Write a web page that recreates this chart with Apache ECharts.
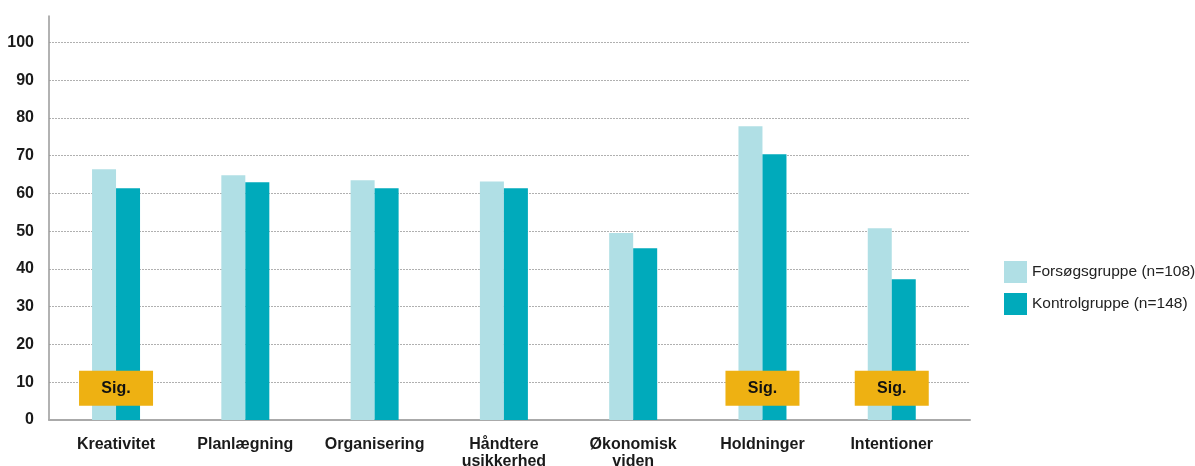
<!DOCTYPE html>
<html>
<head>
<meta charset="utf-8">
<script src="https://cdn.jsdelivr.net/npm/echarts@6/dist/echarts.min.js"></script>
<style>
html,body{margin:0;padding:0;background:#fff;}
#chart{width:1195px;height:466px;}
</style>
</head>
<body>
<div id="chart"></div>
<script>
const categories = ['Kreativitet', 'Planlægning', 'Organisering', 'Håndtere\nusikkerhed', 'Økonomisk\nviden', 'Holdninger', 'Intentioner'];
const forsoeg = [66.4, 64.8, 63.5, 63.2, 49.5, 77.8, 50.8];
const kontrol = [61.4, 63.0, 61.4, 61.4, 45.5, 70.4, 37.3];
const sigCategories = ['Kreativitet', 'Holdninger', 'Intentioner'];
const sigLevel = 8.4;
const yTicks = [0, 10, 20, 30, 40, 50, 60, 70, 80, 90, 100];

const FONT = '"Liberation Sans", Arial, sans-serif';
const chart = echarts.init(document.getElementById('chart'), null, {renderer: 'canvas'});
const catIndex = c => categories.findIndex(x => x.replace('\n', ' ') === c || x === c);

chart.setOption({
  animation: false,
  grid: [
    {left: 49, right: 225, top: 16, bottom: 46, containLabel: false, outerBoundsMode: 'none'},
    {left: 51.4, right: 238.6, top: 16, bottom: 46, containLabel: false, outerBoundsMode: 'none'}
  ],
  legend: {
    orient: 'vertical',
    left: 1004,
    top: 261,
    padding: 0,
    itemWidth: 23,
    itemHeight: 22,
    itemGap: 10,
    icon: 'rect',
    data: ['Forsøgsgruppe (n=108)', 'Kontrolgruppe (n=148)'],
    textStyle: {fontFamily: FONT, fontSize: 15.5, color: '#222'}
  },
  xAxis: [
    {
      gridIndex: 0, type: 'value', min: 0, max: 1,
      axisLine: {show: true, lineStyle: {color: '#aaa', width: 2}},
      axisTick: {show: false}, axisLabel: {show: false}, splitLine: {show: false}
    },
    {
      gridIndex: 1, type: 'category', data: categories,
      axisLine: {show: false}, axisTick: {show: false},
      axisLabel: {fontFamily: FONT, fontWeight: 'bold', fontSize: 16, color: '#1a1a1a', margin: 16, lineHeight: 17, interval: 0}
    }
  ],
  yAxis: [
    {
      gridIndex: 0, type: 'value', min: 0, max: 107, interval: 10,
      axisLine: {show: true, lineStyle: {color: '#999', width: 1.5}},
      axisTick: {show: false},
      axisLabel: {
        fontFamily: FONT, fontWeight: 'bold', fontSize: 16, color: '#1a1a1a', margin: 15,
        showMaxLabel: false,
        formatter: v => yTicks.includes(v) ? String(v) : ''
      },
      splitLine: {show: true, showMaxLine: false, showMinLine: false, lineStyle: {color: '#b0b0b0', type: [2, 1], width: 1}}
    },
    {
      gridIndex: 1, type: 'value', min: 0, max: 107, interval: 10,
      show: false, splitLine: {show: false}
    }
  ],
  series: [
    {
      name: 'Forsøgsgruppe (n=108)', type: 'bar', xAxisIndex: 1, yAxisIndex: 1,
      data: forsoeg, barWidth: 24, barGap: '0%',
      itemStyle: {color: '#B0DFE5'}, z: 2
    },
    {
      name: 'Kontrolgruppe (n=148)', type: 'bar', xAxisIndex: 1, yAxisIndex: 1,
      data: kontrol, barWidth: 24, barGap: '0%',
      itemStyle: {color: '#00AABB'}, z: 2
    },
    {
      name: 'Sig.', type: 'scatter', xAxisIndex: 1, yAxisIndex: 1,
      data: sigCategories.map(c => [catIndex(c), sigLevel]),
      symbol: 'rect', symbolSize: [74, 35],
      itemStyle: {color: '#EEB112', opacity: 1},
      label: {show: true, position: 'inside', formatter: 'Sig.', fontFamily: FONT, fontWeight: 'bold', fontSize: 16, color: '#111'},
      z: 5, silent: true
    }
  ]
});
</script>
</body>
</html>
